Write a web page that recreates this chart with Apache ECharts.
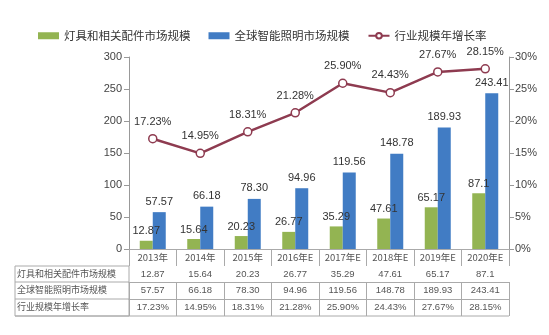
<!DOCTYPE html>
<html>
<head>
<meta charset="utf-8">
<script src="https://cdn.jsdelivr.net/npm/echarts@6/dist/echarts.min.js"></script>
<style>html,body{margin:0;padding:0;background:#fff;}#c{width:549px;height:335px;}</style>
</head>
<body>
<div id="c"></div>
<script>
const years = ['2013年','2014年','2015年','2016年E','2017年E','2018年E','2019年E','2020年E'];
const lampValues = ['12.87','15.64','20.23','26.77','35.29','47.61','65.17','87.1'];
const smartValues = ['57.57','66.18','78.30','94.96','119.56','148.78','189.93','243.41'];
const growthValues = ['17.23','14.95','18.31','21.28','25.90','24.43','27.67','28.15'];
const seriesNames = ['灯具和相关配件市场规模','全球智能照明市场规模','行业规模年增长率'];
const leftTicks = {min:0, max:300, interval:50};
const rightTicks = {min:0, max:30, interval:5};

const FONT = 'Liberation Sans, "Noto Sans CJK SC", sans-serif';
const CJK = '"Noto Sans CJK SC", sans-serif';
const lineCol = '#aaaaaa';
const GL = 129, GR = 509, GT = 57, GB = 249;
const rowH = [17, 16, 17, 17];

const chart = echarts.init(document.getElementById('c'), null, {renderer:'canvas'});

function tableAxis(data, offset, tickLen, fmt) {
  return {
    type:'category', position:'bottom', offset: offset, data: data,
    axisLine:{show:true, lineStyle:{color:lineCol, width:1}},
    axisTick:{show:true, interval:0, length:tickLen, lineStyle:{color:lineCol}},
    axisLabel:{interval:0, margin:4, fontSize:9.5, color:'#555', fontFamily: fmt ? FONT : CJK,
      formatter: fmt || undefined},
    splitLine:{show:false}
  };
}

const offs = [0, rowH[0], rowH[0]+rowH[1], rowH[0]+rowH[1]+rowH[2]];
const tableBottom = GB + offs[3] + rowH[3];

const option = {
  backgroundColor:'#fff',
  animation:false,
  textStyle:{fontFamily:FONT},
  legend:{
    top:25, left:33, itemWidth:21, itemHeight:7, itemGap:18,
    textStyle:{fontSize:11.5, color:'#333', fontFamily:CJK},
    data:[{name:seriesNames[0], icon:'rect'},{name:seriesNames[1], icon:'rect'},{name:seriesNames[2]}]
  },
  grid:{left:GL, right:549-GR, top:GT, bottom:335-GB, containLabel:false},
  xAxis:[
    Object.assign(tableAxis(years, offs[0], rowH[0]), {axisLine:{show:true, lineStyle:{color:'#999'}}}),
    tableAxis(lampValues, offs[1], rowH[1], v=>v),
    tableAxis(smartValues, offs[2], rowH[2], v=>v),
    tableAxis(growthValues, offs[3], rowH[3], v=>v+'%')
  ],
  yAxis:[
    {type:'value', min:leftTicks.min, max:leftTicks.max, interval:leftTicks.interval,
     axisLine:{show:true, lineStyle:{color:'#999'}},
     axisTick:{show:true, length:5, lineStyle:{color:'#999'}},
     axisLabel:{fontSize:11, color:'#444', margin:7, fontFamily:FONT},
     splitLine:{show:false}},
    {type:'value', min:rightTicks.min, max:rightTicks.max, interval:rightTicks.interval, position:'right',
     axisLine:{show:true, lineStyle:{color:'#999'}},
     axisTick:{show:true, length:5, lineStyle:{color:'#999'}},
     axisLabel:{fontSize:11, color:'#444', margin:6, formatter:'{value}%', fontFamily:FONT},
     splitLine:{show:false}}
  ],
  series:[
    {name:seriesNames[0], type:'bar', xAxisIndex:0, yAxisIndex:0, barWidth:13, barGap:'0%',
     data: lampValues.map(Number),
     itemStyle:{color:'#93b452'},
     label:{show:true, position:'top', distance:4, fontSize:11, color:'#333', fontFamily:FONT,
       formatter:p=>lampValues[p.dataIndex]}},
    {name:seriesNames[1], type:'bar', xAxisIndex:0, yAxisIndex:0, barWidth:13, barGap:'0%',
     data: smartValues.map(Number),
     itemStyle:{color:'#417cc4'},
     label:{show:true, position:'top', distance:5, fontSize:11, color:'#333', fontFamily:FONT,
       formatter:p=>smartValues[p.dataIndex]}},
    {name:seriesNames[2], type:'line', xAxisIndex:0, yAxisIndex:1,
     data: growthValues.map(Number),
     symbol:'circle', symbolSize:8,
     lineStyle:{color:'#8e3b50', width:2.5},
     itemStyle:{color:'#fff', borderColor:'#8e3b50', borderWidth:1.5},
     label:{show:true, position:'top', distance:7, fontSize:11, color:'#333', fontFamily:FONT,
       formatter:p=>growthValues[p.dataIndex]+'%'}}
  ],
  graphic:[
    {type:'rect', shape:{x:15, y:GB+offs[1], width:GL-15, height:tableBottom-(GB+offs[1])},
     style:{fill:'none', stroke:lineCol, lineWidth:1}, silent:true},
    {type:'line', shape:{x1:15, y1:GB+offs[2], x2:GL, y2:GB+offs[2]}, style:{stroke:lineCol}},
    {type:'line', shape:{x1:15, y1:GB+offs[3], x2:GL, y2:GB+offs[3]}, style:{stroke:lineCol}},
    {type:'line', shape:{x1:15, y1:tableBottom, x2:GR, y2:tableBottom}, style:{stroke:lineCol}},
    {type:'text', left:17, top:GB+offs[1]+3, style:{text:seriesNames[0], fill:'#555', font:'9px "Noto Sans CJK SC"'}},
    {type:'text', left:17, top:GB+offs[2]+3, style:{text:seriesNames[1], fill:'#555', font:'9px "Noto Sans CJK SC"'}},
    {type:'text', left:17, top:GB+offs[3]+3, style:{text:seriesNames[2], fill:'#555', font:'9px "Noto Sans CJK SC"'}}
  ]
};
chart.setOption(option);
</script>
</body>
</html>
